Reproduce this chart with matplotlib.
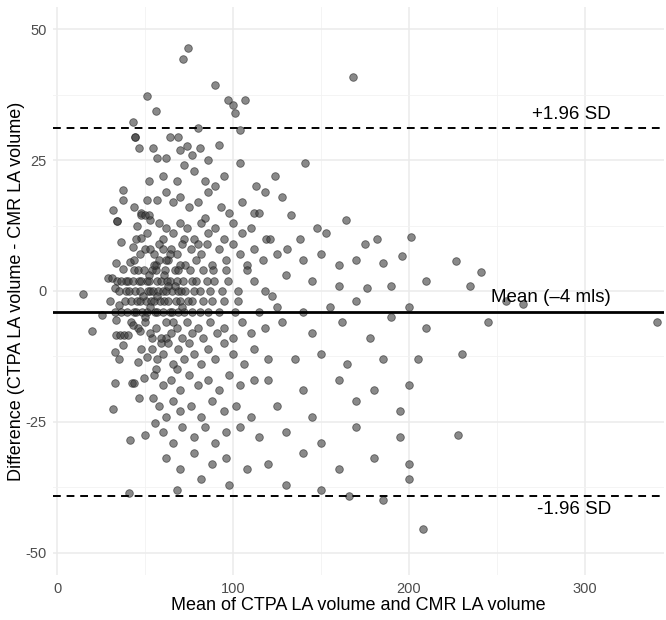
import matplotlib
matplotlib.use("Agg")
import matplotlib.pyplot as plt

plt.rcParams['font.family'] = ['Liberation Sans', 'DejaVu Sans']
plt.rcParams['axes.unicode_minus'] = False

mean_vol = [
    74.4, 71.6, 168, 90, 51.3, 97, 107, 100, 56, 43, 80, 104, 101,
    44.5, 44.5, 46.4, 54.7, 57, 64, 68.7, 74, 70, 81, 86, 62, 77, 92,
    104, 141, 124, 60, 68, 78, 84, 90, 95, 52, 113, 72,
    37.7, 37.7, 31.6, 51.3, 57, 62, 66, 70, 75, 80, 86, 93, 98, 105, 112, 118, 48, 44, 128,
    34.3, 34.3, 45.3, 48, 50, 52, 53, 58, 62, 66, 70, 74, 78, 82, 86, 90, 95, 100, 105, 110,
    115, 119, 133, 148, 153, 164, 138, 182, 201, 60, 72, 84,
    36.4, 43, 47.7, 41.5, 33.5, 50, 53, 55, 58, 60, 63, 65, 68, 71, 73, 76, 79, 82, 85, 88,
    92, 96, 100, 104, 108, 112, 117, 125, 131, 140, 150, 160, 170, 185, 196, 227, 175, 121,
    56, 62, 70, 80,
    29.2, 31.4, 34, 36.5, 39, 40.5, 43, 46.5, 48, 51, 52.5, 57, 59, 62.5, 64, 68, 71.5, 77,
    79, 85, 89, 97, 112,
    32.9, 35.5, 39, 41, 44.5, 47, 51.5, 53, 54.5, 57.5, 60, 62, 65.5, 69, 70.5, 73, 78, 81.5,
    87, 94, 103, 118,
    37.3, 43.5, 46, 49.5, 54, 56, 61.5, 67, 69, 75.5, 83, 88.5, 96, 108,
    130, 145, 160, 176, 190, 210, 241, 235,
    14.6, 30, 35.4, 38.5, 42, 45.5, 47, 50.5, 53.5, 55, 58.5, 61, 63, 67.5, 70, 74.5, 77, 83,
    88, 95, 103, 122,
    25.4, 33, 36.5, 40, 43.5, 45, 48.5, 51, 55.5, 57, 60.5, 64, 65.5, 69, 72, 76.5, 81, 86,
    92, 101, 115, 125, 140, 155, 170, 200, 255, 265, 341,
    44, 47, 52, 55, 58, 61, 64, 67, 49, 53, 57, 63, 42, 46, 50, 54, 59, 66, 71, 48, 56, 62,
    68, 45, 51,
    33.5, 19.7, 33.5, 35.8, 38, 40.3, 43.4, 47.2, 50, 53, 56, 59, 62, 65, 68, 71, 74, 77, 80,
    83, 87, 91, 95, 100, 105, 110, 118, 128, 145, 162, 178, 190, 210, 245,
    37.3, 33, 35, 46, 51, 54, 57, 60, 63, 66, 69, 72, 75, 78, 82, 86, 90, 95, 100, 106, 112,
    120, 135, 150, 165, 185, 205, 230,
    33, 42.4, 44, 49.4, 55, 60, 65, 70, 75, 80, 86, 92, 98, 104, 112, 120, 140, 160, 180, 200,
    46.4, 54.4, 31.6, 58, 62, 66, 70, 76, 82, 88, 95, 102, 110, 125, 145, 170, 195,
    41.5, 50, 55.5, 60, 66, 71, 78, 84, 90, 96, 104, 115, 130, 150, 170, 195, 228,
    62, 70, 78, 88, 96, 108, 120, 140, 160, 180, 200,
    41, 68, 82, 98, 130, 150, 185, 200, 208, 166,
]
diff_vol = [
    46.5, 44.4, 41, 39.4, 37.3, 36.5, 36.5, 35.6, 34.4, 32.4, 31.2, 30.8, 34,
    29.4, 29.4, 27.4, 27.4, 25.4, 29.4, 29.4, 27.7, 27, 27.3, 25, 25.4, 26, 28,
    24.5, 24.5, 22, 22, 21, 23, 21, 20, 22, 21, 20, 24,
    19.4, 17.4, 15.4, 17.4, 17.4, 19, 17, 18, 16, 17, 19, 16, 15, 17, 15, 19, 15, 16, 18,
    13.4, 13.4, 12.4, 14.5, 14.5, 14.5, 13.5, 13, 12, 11, 13, 12, 10, 13, 11, 12, 10, 13, 11, 12,
    15, 10, 14.5, 12, 11, 13.6, 10, 10, 10.3, 10, 10, 14,
    9.4, 8.4, 10.2, 5.6, 5.4, 8, 8, 7, 9, 8, 6, 8, 7, 9, 5, 8, 6, 7, 9, 5,
    8, 6, 9, 7, 5, 8, 6, 7, 8, 6, 7, 5, 6, 5.4, 6.7, 5.7, 9, 10,
    5, 6, 5, 9,
    2.4, 2.4, 2, 2, 2, 2, 2, 2, 2, 2, 2, 2, 2, 2, 2, 2, 2, 2,
    2, 2, 2, 2, 2,
    0.5, 0, 0, 0, 0, 0, 0, 0, 0, 0, 0, 0, 0, 0, 0, 0, 0, 0,
    0, 0, 0, 0,
    4.3, 4, 4, 4, 4, 4, 4, 4, 4, 4, 4, 4, 4, 4,
    3, 2, 1, 0.5, 1, 2, 3.6, 1,
    -0.6, -2, -2.7, -2, -2, -2, -2, -2, -2, -2, -2, -2, -2, -2, -2, -2, -2, -2,
    -2, -2, -2, -1,
    -4.5, -4, -4, -4, -4, -4, -4, -4, -4, -4, -4, -4, -4, -4, -4, -4, -4, -4,
    -4, -4, -4, -3, -4, -3, -2, -3, -2, -2.5, -6,
    6, 7, 3, 5, 6, 3, 7, 1, -1, -3, -1, 1, -6, -7, -5, -9, -10, -6, -3, -11, -15, -9,
    -15, 10, 11,
    -5.5, -7.6, -8.4, -8.4, -8.4, -8.4, -6.5, -7.6, -6, -8, -7, -9, -6, -8, -7, -9, -6, -8, -7,
    -9, -6, -8, -7, -9, -6, -8, -7, -6, -8, -6, -9, -5, -7, -6,
    -10.3, -11.6, -13, -13.5, -12.6, -11, -13, -12, -10, -14, -11, -13, -10, -12, -14, -11, -13, -10, -12, -14, -11,
    -13, -13, -12, -14, -13, -13, -12,
    -17.5, -17.5, -17.5, -16.6, -16, -18, -17, -19, -16, -18, -17, -19, -16, -18, -17, -17, -19, -17, -19, -18,
    -20.5, -20.5, -22.6, -22, -24, -21, -23, -22, -24, -21, -23, -22, -24, -22, -24, -21, -23,
    -28.5, -27.5, -25.3, -27, -29, -26, -28, -26, -29, -27, -26, -28, -27, -29, -26, -28, -27.5,
    -32, -34, -31, -33, -32, -34, -33, -31, -34, -32, -33,
    -38.6, -38, -36, -37, -37, -38, -40, -36, -45.5, -39.2,
]
n = min(len(mean_vol), len(diff_vol))

mean_diff = -4.0
upper_loa = 31.2
lower_loa = -39.2

x_ticks = [0, 100, 200, 300]
y_ticks = [-50, -25, 0, 25, 50]

W, H = 666, 620
L, R, T, B = 53.5, 664, 7, 575
fig = plt.figure(figsize=(W / 100, H / 100), dpi=100)
ax = fig.add_axes([L / W, 1 - B / H, (R - L) / W, (B - T) / H])
ax.set_xlim(-2, 345)
ax.set_ylim(-54.3, 54.3)

for s in ax.spines.values():
    s.set_visible(False)
ax.set_xticks(x_ticks)
ax.set_yticks(y_ticks)
ax.set_xticks([50, 150, 250], minor=True)
ax.set_yticks([-37.5, -12.5, 12.5, 37.5], minor=True)
ax.grid(True, which='major', color='#EBEBEB', lw=1.1)
ax.grid(True, which='minor', color='#F2F2F2', lw=0.6)
ax.set_axisbelow(True)
ax.tick_params(which='both', length=0, labelsize=10.5, labelcolor='#4D4D4D', pad=5)

ax.scatter(mean_vol[:n], diff_vol[:n], s=30, color='#3A3A3A', alpha=0.6,
           edgecolors='#1E1E1E', linewidths=0.6, zorder=3)

ax.axhline(mean_diff, color='black', lw=2, zorder=4)
ax.axhline(upper_loa, color='black', lw=1.4, ls=(0, (4, 3)), zorder=4)
ax.axhline(lower_loa, color='black', lw=1.4, ls=(0, (4, 3)), zorder=4)

ax.text(315, upper_loa + 2.6, '+1.96 SD', ha='right', va='center', fontsize=13.5)
ax.text(315, mean_diff + 2.8, 'Mean (\u20134 mls)', ha='right', va='center', fontsize=13.5)
ax.text(315, lower_loa - 2.6, '-1.96 SD', ha='right', va='center', fontsize=13.5)

ax.set_xlabel('Mean of CTPA LA volume and CMR LA volume', fontsize=13)
ax.xaxis.set_label_coords(0.5, -(606 - B) / (B - T))
ax.xaxis.label.set_va('center')
ax.set_ylabel('Difference (CTPA LA volume - CMR LA volume)', fontsize=13)
ax.yaxis.set_label_coords(-(L - 17) / (R - L), 0.5)
ax.yaxis.label.set_va('center')

fig.savefig('out.png', dpi=100)
